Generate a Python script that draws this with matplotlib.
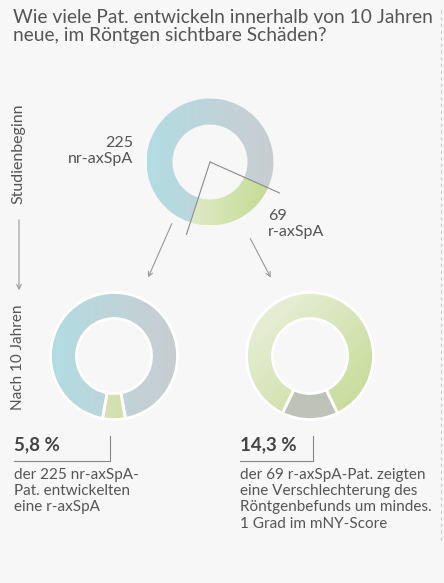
import numpy as np
import matplotlib.pyplot as plt
from matplotlib.colors import LinearSegmentedColormap

# Daten
titel = "Wie viele Pat. entwickeln innerhalb von 10 Jahren\nneue, im Röntgen sichtbare Schäden?"
start_werte = [69, 225]            # r-axSpA, nr-axSpA zu Studienbeginn
start_labels = ["69\nr-axSpA", "225\nnr-axSpA"]
nr_anteile = [5.8, 94.2]           # nr-axSpA -> r-axSpA nach 10 Jahren
r_anteile = [14.3, 85.7]           # r-axSpA mit Verschlechterung
nr_text = "der 225 nr-axSpA-\nPat. entwickelten\neine r-axSpA"
r_text = ("der 69 r-axSpA-Pat. zeigten\neine Verschlechterung des\n"
          "Röntgenbefunds um mindes.\n1 Grad im mNY-Score")

W, H = 444, 583
grau = "#555555"
plt.rcParams['font.family'] = ['Lato', 'DejaVu Sans']

fig = plt.figure(figsize=(W / 100, H / 100), dpi=100, facecolor="#f7f7f7")
ax = fig.add_axes([0, 0, 1, 1])
ax.set_facecolor("#f7f7f7")


def verlauf(ax, wedge, c1, c2, cx, cy, r, richtung):
    """Farbverlauf in ein Tortenstueck legen."""
    n = 200
    g = np.linspace(0, 1, n)
    if richtung == "h":
        img = np.tile(g, (n, 1))
    else:
        a, b = np.meshgrid(g, g)
        img = (a + b) / 2
    cmap = LinearSegmentedColormap.from_list("v", [c1, c2])
    im = ax.imshow(img, cmap=cmap, extent=(cx - r, cx + r, cy - r, cy + r),
                   origin="upper", zorder=1, interpolation="bilinear")
    im.set_clip_path(wedge)


def donut(ax, werte, cx, cy, start, ccw, kante):
    y = H - cy
    r = 63.5
    wedges, _ = ax.pie(werte, center=(cx, y), radius=r, startangle=start,
                       counterclock=ccw, frame=True,
                       wedgeprops=dict(width=26, edgecolor="white" if kante else "none",
                                       linewidth=kante, facecolor="none", zorder=2))
    return wedges, y, r


# oberer Ring
w, y0, r = donut(ax, start_werte, 210, 162, -24, False, 0)
verlauf(ax, w[0], "#eef2e0", "#c3da92", 210, y0, r, "h")
verlauf(ax, w[1], "#b2dce3", "#cacdd1", 210, y0, r, "h")
for ang in [-24, -108]:
    t = np.deg2rad(ang)
    ax.plot([210, 210 + 76 * np.cos(t)], [y0, y0 + 76 * np.sin(t)],
            color="#8a8a8a", lw=0.8, zorder=3)
ax.text(133, H - 151, start_labels[1], ha="right", va="center", fontsize=11.5,
        color=grau, linespacing=1.1)
ax.text(268, H - 224, start_labels[0], ha="left", va="center", fontsize=11.5,
        color=grau, linespacing=1.1)

# untere Ringe
w, y1, r = donut(ax, nr_anteile, 114, 356, -90 - nr_anteile[0] * 1.8, True, 2)
verlauf(ax, w[0], "#dfe8c6", "#c6da98", 114, y1, r, "h")
verlauf(ax, w[1], "#b2dce3", "#cacdd1", 114, y1, r, "h")

w, y2, r = donut(ax, r_anteile, 310, 356, -90 - r_anteile[0] * 1.8, True, 2)
w[0].set_facecolor("#bfc3b7")
w[0].set_zorder(2)
verlauf(ax, w[1], "#eef1e3", "#c3d990", 310, y2, r, "d")

# Pfeile
pfeil = dict(arrowstyle="->", color="#999999", lw=0.8, mutation_scale=8)
ax.annotate("", xy=(147, H - 280), xytext=(173, H - 221), arrowprops=pfeil)
ax.annotate("", xy=(272, H - 280), xytext=(249, H - 236), arrowprops=pfeil)
ax.annotate("", xy=(19, H - 293), xytext=(19, H - 217), arrowprops=pfeil)

ax.text(18, H - 154, "Studienbeginn", rotation=90, ha="center", va="center",
        fontsize=11.5, color=grau)
ax.text(18, H - 357, "Nach 10 Jahren", rotation=90, ha="center", va="center",
        fontsize=11, color=grau)

# Prozentwerte
for x0, x1, wert, txt in [(14, 110, nr_anteile[0], nr_text),
                          (240, 313, r_anteile[0], r_text)]:
    ax.text(x0, H - 445, f"{wert:.1f} %".replace(".", ","), ha="left", va="center",
            fontsize=13.5, fontweight="bold", color="#444444")
    ax.plot([x0, x1, x1], [H - 461, H - 461, H - 436], color="#888888", lw=0.8)
    ax.text(x0, H - 468, txt, ha="left", va="top", fontsize=11, color=grau,
            linespacing=1.2)

ax.text(13, H - 9, titel, ha="left", va="top", fontsize=13.8, color=grau,
        linespacing=1.05)
ax.plot([441, 441], [H - 10, H - 540], color="#cccccc", lw=0.8, ls=(0, (3, 3)))

ax.set_xlim(0, W)
ax.set_ylim(0, H)
ax.set_aspect("auto")
ax.axis("off")
fig.savefig("out.png", dpi=100, facecolor=fig.get_facecolor())
